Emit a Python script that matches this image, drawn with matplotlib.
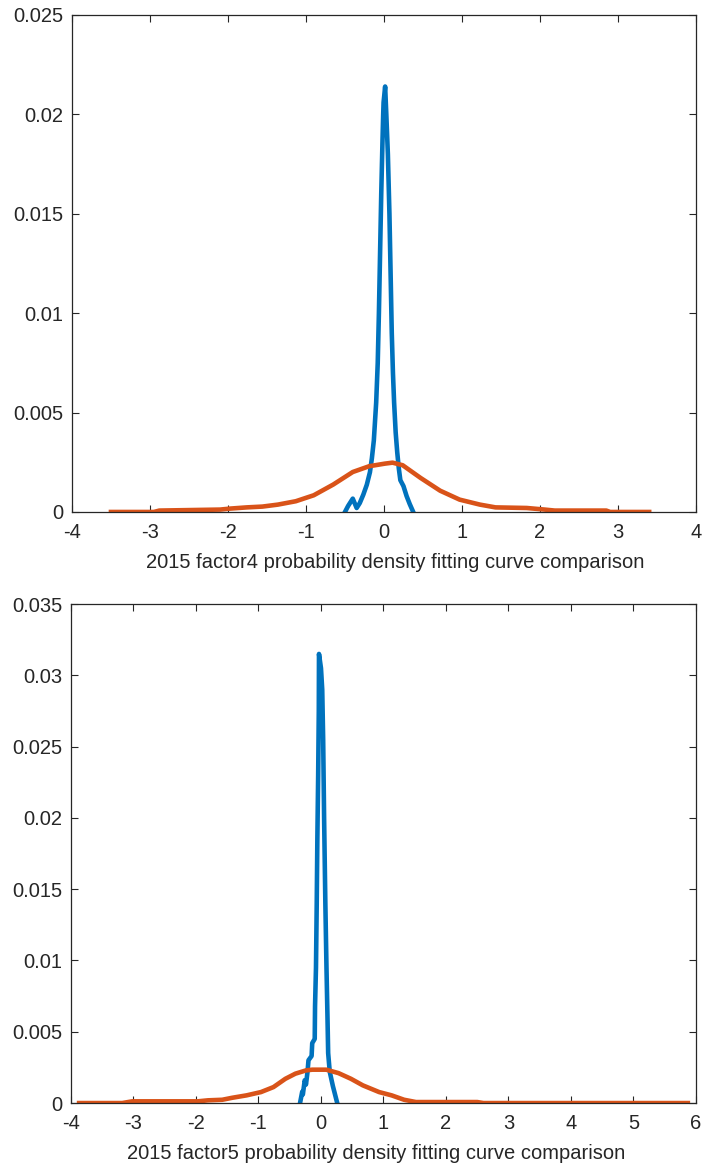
import matplotlib
matplotlib.use("Agg")
import matplotlib.pyplot as plt

plt.rcParams['font.family'] = ['Liberation Sans', 'DejaVu Sans']

# --- factor4 (2015) ---
f4_emp_x = [-0.50, -0.46, -0.40, -0.35, -0.31, -0.265, -0.22, -0.18, -0.155, -0.13,
            -0.10, -0.08, -0.065, -0.05, -0.035, -0.02, -0.01, -0.005, 0.015, 0.03,
            0.05, 0.07, 0.085, 0.10, 0.115, 0.13, 0.15, 0.17, 0.19, 0.21,
            0.25, 0.29, 0.33, 0.375]
f4_emp_y = [0.0, 0.0003, 0.00067, 0.0002, 0.00045, 0.00087, 0.00137, 0.0020, 0.0027, 0.0036,
            0.0055, 0.0075, 0.0100, 0.0130, 0.0160, 0.0185, 0.0200, 0.0206, 0.0214, 0.0200,
            0.0180, 0.0150, 0.0120, 0.0090, 0.0070, 0.0055, 0.0040, 0.0030, 0.0022, 0.0016,
            0.0013, 0.0008, 0.0004, 0.0]

f4_fit_x = [-3.50, -2.95, -2.88, -2.10, -1.97, -1.76, -1.56, -1.36, -1.13, -0.90,
            -0.65, -0.40, -0.19, 0.01, 0.11, 0.24, 0.47, 0.72, 0.97, 1.23,
            1.43, 1.83, 2.06, 2.19, 2.85, 2.90, 3.40]
f4_fit_y = [0.0, 0.0, 0.00007, 0.00012, 0.00017, 0.00023, 0.00027, 0.00037, 0.00054, 0.00084,
            0.00138, 0.00201, 0.0023, 0.00243, 0.00248, 0.00235, 0.00171, 0.00107, 0.00062, 0.00037,
            0.00023, 0.0002, 0.00012, 0.00007, 0.00007, 0.0, 0.0]

# --- factor5 (2015) ---
f5_emp_x = [-0.335, -0.30, -0.29, -0.26, -0.24, -0.215, -0.20, -0.15, -0.14, -0.10,
            -0.095, -0.08, -0.068, -0.058, -0.045, -0.035, -0.032, 0.0, 0.02, 0.035,
            0.05, 0.07, 0.088, 0.105, 0.115, 0.14, 0.19, 0.26]
f5_emp_y = [0.0, 0.0008, 0.0006, 0.0016, 0.0013, 0.0022, 0.0030, 0.0033, 0.0042, 0.0045,
            0.0068, 0.0095, 0.0140, 0.0185, 0.0230, 0.0275, 0.0315, 0.0305, 0.0290, 0.0255,
            0.0200, 0.0140, 0.0095, 0.0058, 0.0035, 0.0022, 0.0012, 0.0]

f5_fit_x = [-3.87, -3.18, -3.02, -1.97, -1.81, -1.58, -1.42, -1.19, -0.96, -0.76,
            -0.57, -0.41, -0.24, -0.14, 0.085, 0.28, 0.48, 0.67, 0.93, 1.13,
            1.33, 1.52, 2.50, 2.60, 5.87]
f5_fit_y = [0.0, 0.0, 0.00012, 0.00012, 0.00019, 0.00023, 0.00037, 0.00054, 0.00077, 0.00112,
            0.0017, 0.00206, 0.00229, 0.00234, 0.00234, 0.0021, 0.0017, 0.00124, 0.00077, 0.00054,
            0.00023, 0.00007, 0.00007, 0.0, 0.0]

x_ticks_4 = [-4, -3, -2, -1, 0, 1, 2, 3, 4]
y_ticks_4 = [0, 0.005, 0.01, 0.015, 0.02, 0.025]
y_labels_4 = ['0', '0.005', '0.01', '0.015', '0.02', '0.025']

x_ticks_5 = [-4, -3, -2, -1, 0, 1, 2, 3, 4, 5, 6]
y_ticks_5 = [0, 0.005, 0.01, 0.015, 0.02, 0.025, 0.03, 0.035]
y_labels_5 = ['0', '0.005', '0.01', '0.015', '0.02', '0.025', '0.03', '0.035']

blue = '#0072BD'
orange = '#D95319'
axc = '#262626'
fs = 14.5

fig = plt.figure(figsize=(7.07, 11.67), dpi=100)
ax1 = fig.add_axes([0.1018, 0.5613, 0.8826, 0.4259])
ax2 = fig.add_axes([0.1004, 0.0548, 0.8840, 0.4276])


def style(ax, xt, yt, yl, xlab, lab_x):
    ax.set_xlim(xt[0], xt[-1])
    ax.set_ylim(yt[0], yt[-1])
    ax.set_xticks(xt)
    ax.set_xticklabels([str(v) for v in xt])
    ax.set_yticks(yt)
    ax.set_yticklabels(yl)
    ax.tick_params(direction='in', length=5, width=0.8, colors=axc, labelsize=fs,
                   top=True, right=True, pad=6)
    ax.tick_params(axis='x', pad=8)
    for s in ax.spines.values():
        s.set_color(axc)
        s.set_linewidth(0.9)
    ax.set_xlabel(xlab, fontsize=fs, color=axc)
    ax.xaxis.set_label_coords(lab_x, -0.083)


ax1.plot(f4_emp_x, f4_emp_y, color=blue, lw=3.3)
ax1.plot(f4_fit_x, f4_fit_y, color=orange, lw=3.3)
style(ax1, x_ticks_4, y_ticks_4, y_labels_4,
      '2015 factor4 probability density fitting curve comparison', 0.518)

ax2.plot(f5_emp_x, f5_emp_y, color=blue, lw=3.3)
ax2.plot(f5_fit_x, f5_fit_y, color=orange, lw=3.3)
style(ax2, x_ticks_5, y_ticks_5, y_labels_5,
      '2015 factor5 probability density fitting curve comparison', 0.489)

fig.savefig('out.png', dpi=100)
